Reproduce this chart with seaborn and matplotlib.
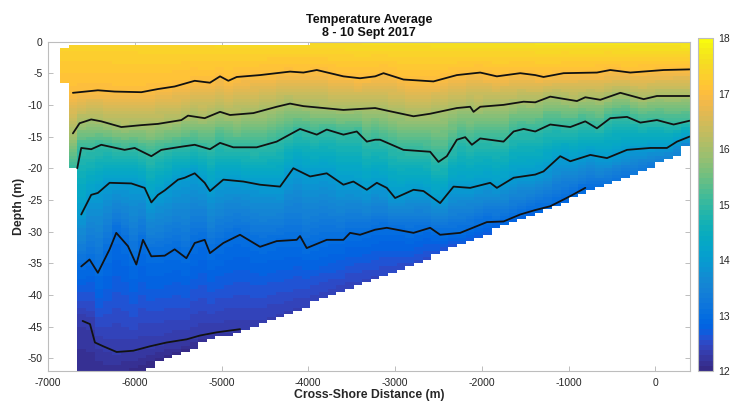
import numpy as np
import matplotlib
matplotlib.use("Agg")
import matplotlib.pyplot as plt
from matplotlib.colors import ListedColormap
import seaborn as sns

# ---------------- data ----------------
levels = [17, 16, 15, 14, 13, 12.3]

iso17_x = [-6713, -6425, -6232, -5924, -5732, -5540, -5309, -5194, -5133, -5017, -4921, -4825,
           -4556, -4210, -4056, -3902, -3748, -3595, -3403, -3229, -3133, -2903, -2557, -2287,
           -2018, -1826, -1557, -1384, -1288, -1057, -673, -519, -288, 96, 396]
iso17_d = [-8.1, -7.7, -7.9, -8.0, -7.5, -7.1, -6.2, -6.4, -6.5, -5.5, -6.2, -5.6,
           -5.3, -4.75, -4.9, -4.5, -5.0, -5.5, -5.8, -5.5, -5.0, -6.0, -6.3, -5.3,
           -4.9, -5.5, -5.0, -5.3, -5.6, -5.0, -4.9, -4.5, -4.9, -4.5, -4.4]

iso16_x = [-6713, -6636, -6502, -6386, -6155, -5924, -5732, -5463, -5386, -5194, -5017, -4902,
           -4633, -4364, -4210, -4056, -3825, -3595, -3229, -3095, -2787, -2595, -2287, -2134,
           -2095, -2018, -1749, -1518, -1384, -1211, -903, -807, -634, -403, -134, 19, 396]
iso16_d = [-14.5, -12.9, -12.3, -12.6, -13.5, -13.2, -13.0, -12.4, -11.7, -12.1, -11.1, -11.6,
           -11.3, -10.3, -9.8, -10.2, -10.5, -10.8, -10.5, -10.9, -11.8, -11.4, -10.5, -10.3,
           -11.1, -10.3, -10.0, -9.5, -9.6, -8.7, -9.4, -8.8, -9.2, -8.1, -9.1, -8.6, -8.6]

iso15_x = [-6663, -6617, -6502, -6386, -6117, -6001, -5809, -5694, -5463, -5309, -5133, -5017,
           -4864, -4595, -4364, -4095, -3902, -3787, -3595, -3441, -3325, -3229, -3172, -2903,
           -2595, -2499, -2403, -2287, -2191, -2114, -2018, -1749, -1633, -1518, -1384, -1211,
           -980, -807, -673, -519, -326, -172, 19, 211, 396]
iso15_d = [-20.0, -16.8, -17.0, -16.3, -17.1, -16.8, -18.1, -17.1, -16.6, -16.3, -17.0, -16.0,
           -16.7, -16.7, -15.8, -13.8, -14.7, -13.9, -14.7, -14.2, -15.8, -15.5, -15.5, -17.1,
           -17.4, -19.0, -18.1, -15.5, -15.1, -16.3, -15.3, -15.8, -14.2, -13.8, -14.2, -13.1,
           -13.5, -12.6, -13.7, -12.1, -11.9, -12.8, -12.4, -13.1, -12.5]

iso14_x = [-6617, -6502, -6425, -6290, -6040, -5886, -5809, -5732, -5655, -5501, -5424, -5309,
           -5194, -5133, -4979, -4748, -4556, -4325, -4172, -3979, -3787, -3595, -3480, -3325,
           -3210, -3095, -2999, -2787, -2672, -2480, -2326, -2134, -1903, -1826, -1633, -1384,
           -1288, -1096, -980, -749, -557, -326, -57, 134, 250, 396]
iso14_d = [-27.3, -24.2, -23.9, -22.3, -22.4, -23.1, -25.4, -24.2, -23.5, -21.8, -21.5, -20.8,
           -22.3, -23.6, -21.8, -22.1, -22.6, -22.9, -20.0, -21.3, -20.8, -22.6, -22.1, -23.4,
           -22.3, -23.1, -24.7, -23.4, -23.6, -25.5, -22.9, -23.1, -22.3, -23.1, -21.5, -21.0,
           -20.5, -18.1, -18.9, -17.9, -18.4, -17.1, -16.8, -16.8, -15.8, -15.0]

iso13_x = [-6617, -6521, -6425, -6290, -6213, -6078, -5982, -5905, -5809, -5655, -5540, -5405,
           -5309, -5194, -5133, -4979, -4787, -4556, -4364, -4133, -4095, -4018, -3787, -3595,
           -3518, -3403, -3229, -3095, -2787, -2595, -2480, -2249, -1941, -1749, -1557, -1384,
           -1211, -980, -807]
iso13_d = [-35.5, -34.4, -36.5, -32.8, -30.2, -32.3, -35.2, -31.3, -33.9, -33.8, -32.8, -34.2,
           -31.8, -31.3, -33.4, -31.8, -30.5, -32.4, -31.5, -31.3, -30.7, -32.6, -31.3, -31.3,
           -30.2, -30.5, -29.7, -29.4, -30.2, -29.4, -30.5, -30.2, -28.5, -28.4, -27.3, -26.6,
           -26.0, -24.4, -23.1]

iso12_x = [-6601, -6516, -6459, -6363, -6209, -6017, -5824, -5632, -5401, -5248, -5056, -4786]
iso12_d = [-44.1, -44.6, -47.5, -48.1, -49.0, -48.8, -48.1, -47.5, -47.0, -46.4, -45.9, -45.4]

surface_x = [-6860, -5000, -3000, -1000, 400]
surface_T = [17.35, 17.45, 17.55, 17.65, 17.75]
top_x = [-6860, -6670, -5400, -3300, 400]
top_d = [-1.3, -0.9, -0.7, -0.4, -0.05]
bottom_x = [-6660, -5863, -5517, -5133, -4671, -2826, -1557, 288, 400]
bottom_d = [-60.0, -51.7, -49.4, -47.2, -45.2, -35.4, -28.1, -17.9, -15.3]
bottomT_x = [-6700, -5800, -5100, -4800, -4500, -3500, -2500, -1500, -1000, -800, 0, 400]
bottomT = [11.9, 12.0, 12.15, 12.28, 12.35, 12.4, 12.55, 12.75, 12.9, 13.0, 13.3, 13.5]
offshore_col_bottom = [-6.5, -20.0]
x_first, x_last, n_cols = -6860, 400, 73
dz = 0.5

x_ticks = [-7000, -6000, -5000, -4000, -3000, -2000, -1000, 0]
y_ticks = [-50, -45, -40, -35, -30, -25, -20, -15, -10, -5, 0]
cbar_ticks = [12, 13, 14, 15, 16, 17, 18]

# ---------------- parula colormap ----------------
parula_rgb = [
    [0.2081, 0.1663, 0.5292], [0.2116, 0.1898, 0.5777], [0.2123, 0.2138, 0.6270],
    [0.2081, 0.2386, 0.6771], [0.1959, 0.2645, 0.7279], [0.1707, 0.2919, 0.7792],
    [0.1253, 0.3242, 0.8303], [0.0591, 0.3598, 0.8683], [0.0117, 0.3875, 0.8820],
    [0.0060, 0.4086, 0.8828], [0.0165, 0.4266, 0.8786], [0.0329, 0.4430, 0.8720],
    [0.0498, 0.4586, 0.8641], [0.0629, 0.4737, 0.8554], [0.0723, 0.4887, 0.8467],
    [0.0779, 0.5040, 0.8384], [0.0793, 0.5200, 0.8312], [0.0749, 0.5375, 0.8263],
    [0.0641, 0.5570, 0.8240], [0.0488, 0.5772, 0.8228], [0.0343, 0.5966, 0.8199],
    [0.0265, 0.6137, 0.8135], [0.0239, 0.6287, 0.8038], [0.0231, 0.6418, 0.7913],
    [0.0228, 0.6535, 0.7768], [0.0267, 0.6642, 0.7607], [0.0384, 0.6743, 0.7436],
    [0.0590, 0.6838, 0.7254], [0.0843, 0.6928, 0.7062], [0.1133, 0.7015, 0.6859],
    [0.1453, 0.7098, 0.6646], [0.1801, 0.7177, 0.6424], [0.2178, 0.7250, 0.6193],
    [0.2586, 0.7317, 0.5954], [0.3022, 0.7376, 0.5712], [0.3482, 0.7424, 0.5473],
    [0.3953, 0.7459, 0.5244], [0.4420, 0.7481, 0.5033], [0.4871, 0.7491, 0.4840],
    [0.5300, 0.7491, 0.4661], [0.5709, 0.7485, 0.4494], [0.6099, 0.7473, 0.4337],
    [0.6473, 0.7456, 0.4188], [0.6834, 0.7435, 0.4044], [0.7184, 0.7411, 0.3905],
    [0.7525, 0.7384, 0.3768], [0.7858, 0.7356, 0.3633], [0.8185, 0.7327, 0.3498],
    [0.8507, 0.7299, 0.3360], [0.8824, 0.7274, 0.3217], [0.9139, 0.7258, 0.3063],
    [0.9450, 0.7261, 0.2886], [0.9739, 0.7314, 0.2666], [0.9938, 0.7455, 0.2403],
    [0.9990, 0.7653, 0.2164], [0.9955, 0.7861, 0.1967], [0.9880, 0.8066, 0.1794],
    [0.9789, 0.8271, 0.1633], [0.9697, 0.8481, 0.1475], [0.9626, 0.8705, 0.1309],
    [0.9589, 0.8949, 0.1132], [0.9598, 0.9218, 0.0948], [0.9661, 0.9514, 0.0755],
    [0.9763, 0.9831, 0.0538]]
parula = ListedColormap(parula_rgb, name="parula")

# ---------------- build the temperature section ----------------
isos = [(iso17_x, iso17_d), (iso16_x, iso16_d), (iso15_x, iso15_d),
        (iso14_x, iso14_d), (iso13_x, iso13_d), (iso12_x, iso12_d)]

x_edges = np.linspace(x_first, x_last, n_cols + 1)
xc = 0.5 * (x_edges[:-1] + x_edges[1:])
z_edges = np.arange(0, -60.0 - dz / 2, -dz)
zc = 0.5 * (z_edges[:-1] + z_edges[1:])
T = np.full((len(zc), n_cols), np.nan)
for j, x in enumerate(xc):
    top = np.interp(x, top_x, top_d)
    bot = np.interp(x, bottom_x, bottom_d)
    pd_ = [top]
    pt_ = [np.interp(x, surface_x, surface_T)]
    for lev, (ix, idd) in zip(levels, isos):
        d = np.interp(x, ix, idd)
        if bot < d < pd_[-1]:
            pd_.append(d)
            pt_.append(lev)
    pd_.append(bot)
    pt_.append(np.interp(x, bottomT_x, bottomT))
    prof = np.interp(-zc, -np.array(pd_), np.array(pt_))
    lim = offshore_col_bottom[j] if j < len(offshore_col_bottom) else bot
    ok = (zc <= top + dz / 2) & (zc >= lim)
    T[ok, j] = prof[ok]

# ---------------- figure ----------------
sns.set_theme(style="ticks")
plt.rcParams["font.family"] = ["Liberation Sans", "DejaVu Sans"]
plt.rcParams["axes.unicode_minus"] = False

W, H = 741, 404
fig = plt.figure(figsize=(W / 100, H / 100), dpi=100)
ax = fig.add_axes([48 / W, 1 - 371 / H, (690 - 48) / W, (371 - 41.5) / H])
cax = fig.add_axes([698 / W, 1 - 371 / H, 14.5 / W, (371 - 38) / H])

mesh = ax.pcolormesh(x_edges, z_edges, np.ma.masked_invalid(T), cmap=parula,
                     vmin=12, vmax=18, shading="flat", rasterized=True)

for ix, idd in isos:
    sns.lineplot(x=ix, y=idd, sort=False, estimator=None, color="#121212",
                 linewidth=1.3, ax=ax, legend=False)

ax.set_xlim(-7000, 400)
ax.set_ylim(-52, 0)
ax.set_xticks(x_ticks)
ax.set_yticks(y_ticks)
ax.set_xticklabels([str(v) for v in x_ticks])
ax.set_yticklabels([str(v) for v in y_ticks])

spine_col = "#bdbdbd"
txt_col = "#262626"
for s in ax.spines.values():
    s.set_visible(True)
    s.set_color(spine_col)
    s.set_linewidth(0.8)
ax.tick_params(axis="both", direction="in", length=3.5, width=0.7, color=spine_col,
               labelsize=7.5, labelcolor=txt_col, top=True, right=True)
ax.tick_params(axis="x", pad=5)
ax.tick_params(axis="y", pad=4)

ax.set_xlabel("Cross-Shore Distance (m)", fontsize=8.8, fontweight="bold",
              color=txt_col, labelpad=1)
ax.set_ylabel("Depth (m)", fontsize=8.8, fontweight="bold", color=txt_col, labelpad=2)
ax.set_title("Temperature Average\n8 - 10 Sept 2017", fontsize=9, fontweight="bold",
             color="#111111", pad=4, linespacing=1.1)

cb = fig.colorbar(mesh, cax=cax, ticks=cbar_ticks)
cb.outline.set_edgecolor(spine_col)
cb.outline.set_linewidth(0.8)
cax.tick_params(direction="in", length=3, width=0.7, color=spine_col, labelsize=7.5,
                labelcolor=txt_col, pad=4)
cax.set_yticklabels([str(v) for v in cbar_ticks])

fig.savefig("out.png", dpi=100)
